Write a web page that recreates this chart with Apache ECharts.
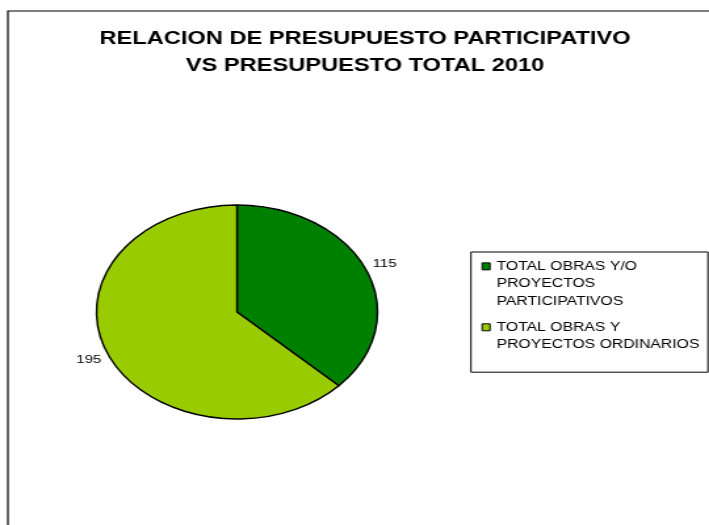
<!DOCTYPE html>
<html>
<head>
<meta charset="utf-8">
<title>Relacion de presupuesto participativo</title>
<script src="https://cdn.jsdelivr.net/npm/echarts@6/dist/echarts.min.js"></script>
<style>
  html, body { margin: 0; padding: 0; background: #fff; overflow: hidden; }
  /* the original image is a chart stretched sideways, so the pie is an ellipse */
  #main { width: 540px; height: 525px; transform: scaleX(1.313); transform-origin: 0 0; }
</style>
</head>
<body>
<div id="main"></div>
<script>
const titleText = 'RELACION DE PRESUPUESTO PARTICIPATIVO\nVS PRESUPUESTO TOTAL 2010'
const categories = ['TOTAL OBRAS Y/O PROYECTOS PARTICIPATIVOS', 'TOTAL OBRAS Y PROYECTOS ORDINARIOS']
const values = [115, 195]

const sliceColors = ['#008000', '#99cc00']
const font = '"Liberation Sans", Arial, sans-serif'
const pieCenterY = 312

// legend icons: square placed level with the first text line
const legendIcons = [
  'path://M0,0M0,5.35h6v7h-6zM6,53.1',
  'path://M0,0M0,14.2h6v7h-6zM6,53.1',
]

const chart = echarts.init(document.getElementById('main'))

const option = {
  animation: false,
  backgroundColor: '#fff',
  textStyle: { fontFamily: font },
  title: {
    text: titleText,
    left: 278,
    top: 26,
    padding: 0,
    textAlign: 'center',
    textStyle: {
      fontFamily: font,
      fontSize: 18,
      fontWeight: 'bold',
      lineHeight: 27,
      color: '#000',
    },
  },
  graphic: [
    {
      type: 'rect',
      silent: true,
      z: -1,
      shape: { x: 6, y: 11, width: 700, height: 700 },
      style: { fill: 'none', stroke: '#000', lineWidth: 1.2 },
    },
  ],
  legend: {
    orient: 'vertical',
    left: 358.7,
    top: 252,
    padding: [5, 4, 9, 8],
    itemGap: -2,
    itemWidth: 6,
    itemHeight: 53.1,
    symbolKeepAspect: false,
    borderColor: '#000',
    borderWidth: 1,
    borderRadius: 0,
    selectedMode: false,
    itemStyle: { borderColor: '#000', borderWidth: 1 },
    textStyle: {
      fontFamily: font,
      fontSize: 12,
      lineHeight: 17.7,
      color: '#000',
      width: 157,
      overflow: 'break',
    },
    data: categories.map((name, i) => ({ name, icon: legendIcons[i] })),
  },
  series: [
    {
      type: 'pie',
      center: [180.5, pieCenterY],
      radius: 107,
      startAngle: 90,
      clockwise: true,
      avoidLabelOverlap: false,
      silent: true,
      itemStyle: { borderColor: '#000', borderWidth: 1.4 },
      label: {
        show: true,
        position: 'outside',
        formatter: '{c}',
        fontFamily: font,
        fontSize: 11.5,
        color: '#000',
        distanceToLabelLine: 5,
      },
      labelLine: { show: false, length: 0, length2: 0 },
      labelLayout: (p) => ({
        dy: p.labelRect.y + p.labelRect.height / 2 < pieCenterY ? -6 : 6,
      }),
      data: categories.map((name, i) => ({
        name,
        value: values[i],
        itemStyle: { color: sliceColors[i] },
      })),
    },
  ],
}

chart.setOption(option)
</script>
</body>
</html>
